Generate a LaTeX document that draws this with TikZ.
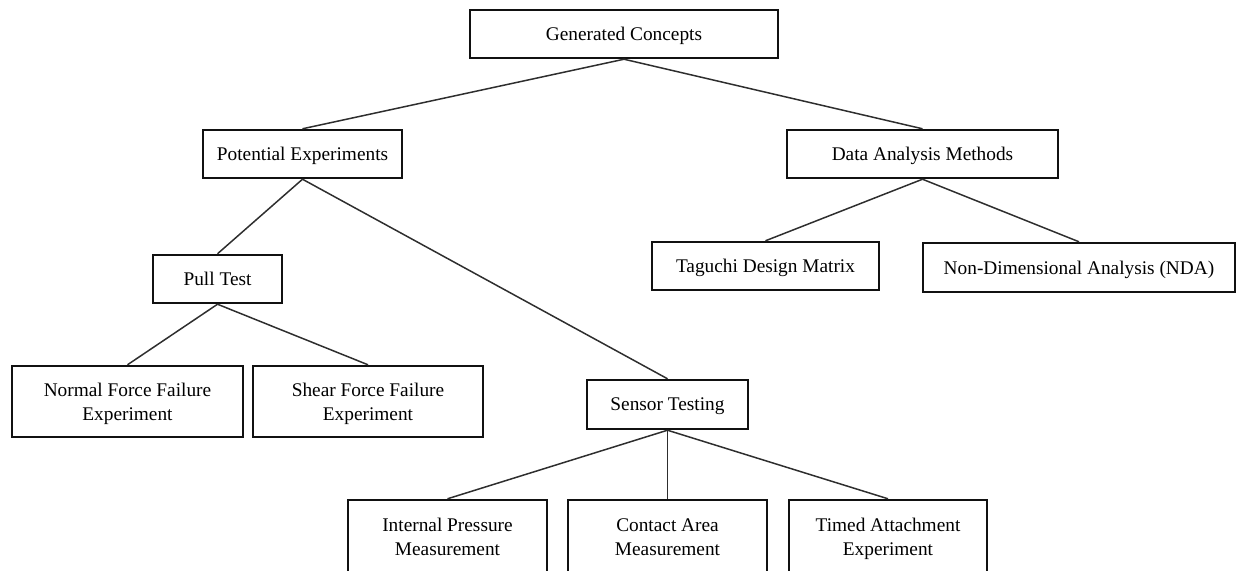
\documentclass[tikz,border=0pt]{standalone}
\usepackage{fontspec}
\setmainfont{Liberation Serif}
\usetikzlibrary{positioning}
\definecolor{ink}{HTML}{111111}
\definecolor{wire}{HTML}{2E2E2E}
\tikzset{
  box/.style={draw=ink,line width=1.4pt,fill=white,inner sep=0pt,align=center,
    minimum height=0.96cm,text depth=0pt,font=\fontsize{11}{13.6}\selectfont},
  tallbox/.style={box,minimum height=1.42cm},
  link/.style={wire,line width=0.85pt}
}

\begin{document}
\begin{tikzpicture}[x=0.02cm,y=-0.02cm]
\useasboundingbox (0,0) rectangle (1238,571);
\node[box,minimum width=6.16cm] (gen) at (624,34) {Generated Concepts};
\node[box,minimum width=3.98cm] (potexp) at (302.5,154) {Potential Experiments};
\node[box,minimum width=5.42cm] (dam) at (922.5,154) {Data Analysis Methods};
\node[box,minimum width=4.54cm] (taguchi) at (765.5,266) {Taguchi Design Matrix};
\node[box,minimum width=6.24cm,minimum height=0.98cm] (nda) at (1079,267.5) {Non-Dimensional Analysis (NDA)};
\node[box,minimum width=2.58cm] (pull) at (217.5,279) {Pull Test};
\node[tallbox,minimum width=4.62cm] (normal) at (127.5,401.5) {Normal Force Failure\\Experiment};
\node[tallbox,minimum width=4.6cm] (shear) at (368,401.5) {Shear Force Failure\\Experiment};
\node[box,minimum width=3.22cm,minimum height=0.98cm] (sensor) at (667.5,404.5) {Sensor Testing};
\node[tallbox,minimum width=3.98cm,minimum height=1.48cm] (pressure) at (447.5,537) {Internal Pressure\\Measurement};
\node[tallbox,minimum width=3.98cm,minimum height=1.48cm] (contact) at (667.5,537) {Contact Area\\Measurement};
\node[tallbox,minimum width=3.96cm,minimum height=1.48cm] (timed) at (888,537) {Timed Attachment\\Experiment};
\draw[link] (gen.south) -- (potexp.north);
\draw[link] (gen.south) -- (dam.north);
\draw[link] (potexp.south) -- (pull.north);
\draw[link] (potexp.south) -- (sensor.north);
\draw[link] (dam.south) -- (taguchi.north);
\draw[link] (dam.south) -- (nda.north);
\draw[link] (pull.south) -- (normal.north);
\draw[link] (pull.south) -- (shear.north);
\foreach \leaf in {pressure,contact,timed}
  \draw[link] (sensor.south) -- (\leaf.north);
\end{tikzpicture}
\end{document}
